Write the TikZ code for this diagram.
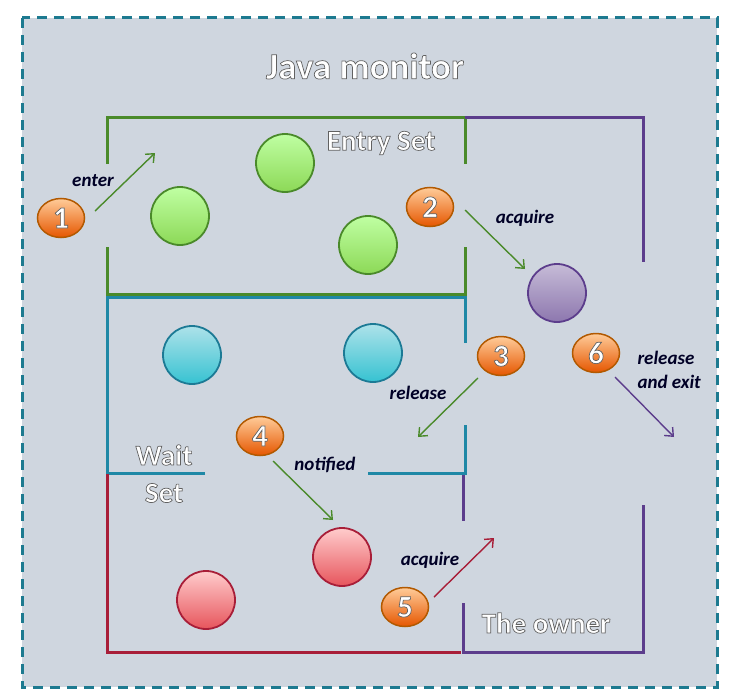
\documentclass[tikz,border=0pt]{standalone}
\usepackage{fontspec}
\setmainfont{Carlito}
\usetikzlibrary{arrows.meta,shapes.geometric}
\definecolor{bgc}{HTML}{CFD6DF}
\definecolor{dashc}{HTML}{1D7A90}
\definecolor{grn}{HTML}{4A8A2A}
\definecolor{tealc}{HTML}{1F88A6}
\definecolor{redc}{HTML}{A81E38}
\definecolor{purp}{HTML}{5C3D8C}
\newcommand\outltxt[1]{\special{pdf:code 2 Tr 0.7 w 0.38 0.38 0.38 RG}#1\special{pdf:code 0 Tr}}
\begin{document}
\begin{tikzpicture}[x=1pt,y=-1pt,
  wall/.style={line width=3pt},
  ball/.style={circle,minimum size=58pt,inner sep=0pt,line width=1.8pt},
  gball/.style={ball,draw=grn,top color=green!25!white!85!lime,bottom color=green!45!lime!60!white!85!black},
  pball/.style={ball,draw=purp,top color=purp!35!white,bottom color=purp!70!white},
  bball/.style={ball,draw=tealc!90!black,top color=cyan!30!tealc!35!white,bottom color=cyan!40!tealc!85!white},
  rball/.style={ball,draw=redc,top color=red!20!white,bottom color=red!60!redc!70!white},
  badge/.style={ellipse,minimum width=47pt,minimum height=39pt,inner sep=0pt,draw=orange!70!black,line width=1.5pt,
     top color=orange!40!white,bottom color=orange!75!red!90!black,font=\bfseries\fontsize{31}{31}\selectfont,text=white},
  wtitle/.style={text=white,font=\bfseries\fontsize{37}{37}\selectfont},
  wlabel/.style={text=white,font=\bfseries\fontsize{29}{29}\selectfont},
  lab/.style={text=black!85!blue,font=\bfseries\itshape\fontsize{19}{24}\selectfont},
  arr/.style={line width=1.4pt,-{Straight Barb[length=7pt,width=12pt,line width=1.4pt]}}
]
\useasboundingbox (0,0) rectangle (739,693);
\fill[white] (0,0) rectangle (739,693);
\filldraw[fill=bgc,draw=dashc,line width=3pt,dash pattern=on 10pt off 7pt] (22,18) rectangle (717,687);
\node[wtitle] (title) at (365,66) {\outltxt{Java monitor}};
% entry set (green)
\draw[wall,grn] (107,164) -- (107,117) -- (465,117) -- (465,164);
\draw[wall,grn] (107,247) -- (107,294) -- (465,294) -- (465,247);
% purple owner
\draw[wall,purp] (465,117) -- (643,117) -- (643,262);
\draw[wall,purp] (463,473) -- (463,521);
\draw[wall,purp] (463,603) -- (463,652) -- (643,652) -- (643,505);
% wait set (teal)
\draw[wall,tealc] (205,473) -- (107,473) -- (107,297) -- (465,297) -- (465,343);
\draw[wall,tealc] (368,473) -- (465,473) -- (465,425);
% red
\draw[wall,redc] (107,474) -- (107,652) -- (461,652);
% labels
\node[wlabel] (entry) at (381,143) {\outltxt{Entry Set}};
\node[wlabel] (wait1) at (164,455) {\outltxt{Wait}};
\node[wlabel] (wait2) at (164,493) {\outltxt{Set}};
\node[wlabel] (owner) at (546,623) {\outltxt{The owner}};
% balls
\node[gball] (g1) at (180,216) {};
\node[gball] (g2) at (285,163) {};
\node[gball] (g3) at (368,245) {};
\node[pball] (p1) at (557,293) {};
\node[bball] (b1) at (192,355) {};
\node[bball] (b2) at (373,353) {};
\node[rball] (r1) at (342,557) {};
\node[rball] (r2) at (206,600) {};
% badges
\node[badge] (n1) at (61,218) {\outltxt{1}};
\node[badge] (n2) at (430,207) {\outltxt{2}};
\node[badge] (n3) at (501,356) {\outltxt{3}};
\node[badge] (n4) at (260,436) {\outltxt{4}};
\node[badge] (n5) at (405,607) {\outltxt{5}};
\node[badge] (n6) at (596,353) {\outltxt{6}};
% arrow coordinates
\coordinate (e1a) at (95,211);  \coordinate (e1b) at (155,153);
\coordinate (e2a) at (465,210); \coordinate (e2b) at (525,269);
\coordinate (e3a) at (478,378); \coordinate (e3b) at (418,437);
\coordinate (e4a) at (273,461); \coordinate (e4b) at (333,520);
\coordinate (e5a) at (434,597); \coordinate (e5b) at (494,538);
\coordinate (e6a) at (615,377); \coordinate (e6b) at (674,437);
\draw[arr,grn] (e1a) -- (e1b);
\draw[arr,grn] (e2a) -- (e2b);
\draw[arr,grn] (e3a) -- (e3b);
\draw[arr,grn] (e4a) -- (e4b);
\draw[arr,redc] (e5a) -- (e5b);
\draw[arr,purp] (e6a) -- (e6b);
% arrow labels
\node[lab] (l1) at (93,181) {enter};
\node[lab] (l2) at (525,218) {acquire};
\node[lab] (l3) at (418,393) {release};
\node[lab] (l4) at (325,465) {notified};
\node[lab] (l5) at (430,560) {acquire};
\node[lab,align=left,anchor=west] (l6) at (634,370) {release\\and exit};
\end{tikzpicture}
\end{document}
